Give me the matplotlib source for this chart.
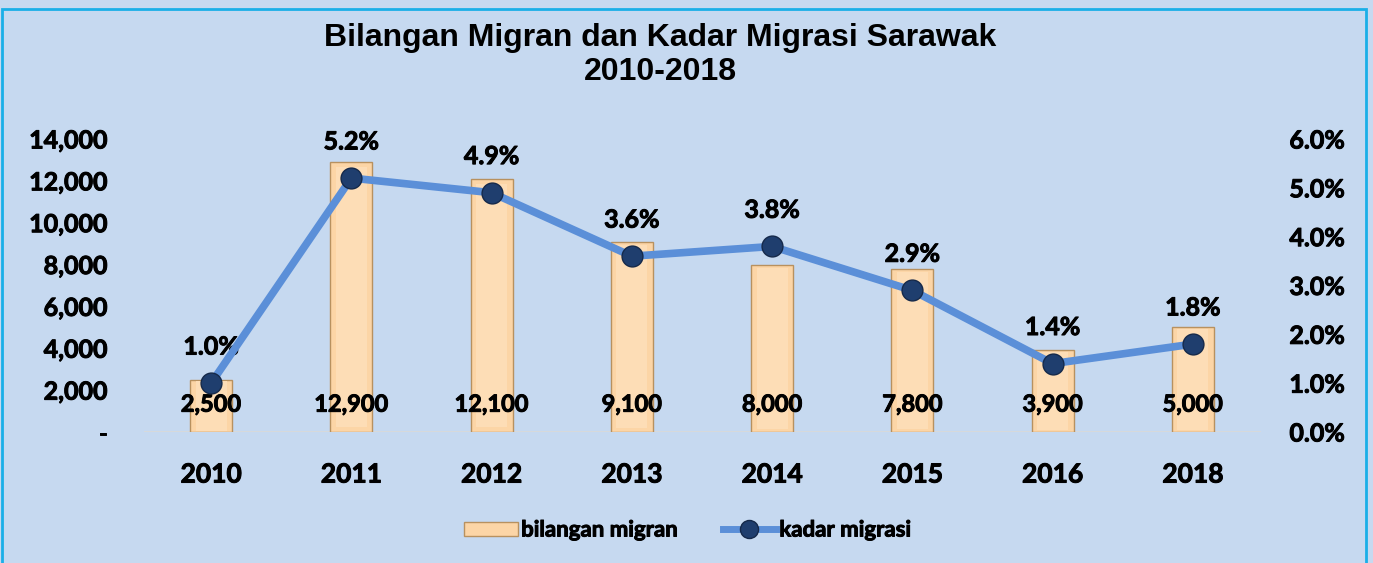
import matplotlib
matplotlib.use("Agg")
import matplotlib.pyplot as plt
from matplotlib.patches import Rectangle
from matplotlib.lines import Line2D
from matplotlib.patches import Patch
import matplotlib.transforms as mtransforms
import matplotlib.patheffects as pe

years = ["2010", "2011", "2012", "2013", "2014", "2015", "2016", "2018"]
migrants = [2500, 12900, 12100, 9100, 8000, 7800, 3900, 5000]
rate = [1.0, 5.2, 4.9, 3.6, 3.8, 2.9, 1.4, 1.8]
left_ticks = [0, 2000, 4000, 6000, 8000, 10000, 12000, 14000]
right_ticks = [0, 1, 2, 3, 4, 5, 6]

BG = "#C6D9F0"
W, H = 1373, 563
fig = plt.figure(figsize=(W / 100, H / 100), dpi=100, facecolor=BG)
plt.rcParams['font.family'] = ['Lato', 'DejaVu Sans']
WT = "bold"
PE = [pe.withStroke(linewidth=0.7, foreground="black")]

# border
fig.patches.append(Rectangle((2 / W, -0.05), 1364 / W, 1.05 - 9 / H,
                             transform=fig.transFigure, fill=False,
                             edgecolor="#1AAFE8", linewidth=2))

ax = fig.add_axes([141 / W, (H - 432) / H, 1122 / W, 293 / H])
ax.set_facecolor("none")
x = list(range(len(years)))
ax.bar(x, migrants, width=0.3, color="#FCD5A6", edgecolor="#B8915F",
       linewidth=1, zorder=2)
ax.bar(x, [m * 0.96 for m in migrants], width=0.22, bottom=[m * 0.02 for m in migrants],
       color="#FDDDB6", linewidth=0, zorder=2.1)
ax.set_xlim(-0.5, len(years) - 0.5)
ax.set_ylim(0, 14000)
ax.set_yticks(left_ticks)
ax.set_yticklabels(["-"] + [f"{v:,}" for v in left_ticks[1:]])
ax.set_xticks(x)
ax.set_xticklabels(years)
for s in ax.spines.values():
    s.set_visible(False)
ax.tick_params(length=0)
ax.tick_params(axis="y", labelsize=18, pad=24)
ax.tick_params(axis="x", labelsize=19, pad=22)
for lab in ax.get_yticklabels() + ax.get_xticklabels():
    lab.set_fontweight(WT)
    lab.set_path_effects(PE)
ax.axhline(0, color="#D9D9D9", linewidth=2, xmin=0.004, xmax=0.996, zorder=1)

trans = mtransforms.blended_transform_factory(ax.transData, ax.transAxes)
for xi, m in zip(x, migrants):
    ax.text(xi, 0.095, f"{m:,}", transform=trans, ha="center", va="center",
            fontsize=17, fontweight=WT, color="black", zorder=5, path_effects=PE)

ax2 = ax.twinx()
ax2.set_ylim(0, 6)
ax2.set_yticks(right_ticks)
ax2.set_yticklabels([f"{v:.1f}%" for v in right_ticks])
for s in ax2.spines.values():
    s.set_visible(False)
ax2.tick_params(length=0, labelsize=18, pad=19)
for lab in ax2.get_yticklabels():
    lab.set_fontweight(WT)
    lab.set_path_effects(PE)
ax2.plot(x, rate, color="#5B8FD8", linewidth=5.5, marker="o", markersize=15,
         markerfacecolor="#1F3E6E", markeredgecolor="#15294A", markeredgewidth=1,
         zorder=4, solid_capstyle="round")
for xi, r in zip(x, rate):
    ax2.annotate(f"{r:.1f}%", (xi, r), xytext=(0, 26), textcoords="offset points",
                 ha="center", va="center", fontsize=18, fontweight=WT, path_effects=PE)

fig.text(660 / W, 1 - 38 / H, "Bilangan Migran dan Kadar Migrasi Sarawak",
         ha="center", va="center", fontsize=23, fontweight="bold",
         family=["Liberation Sans", "DejaVu Sans"])
fig.text(660 / W, 1 - 72 / H, "2010-2018",
         ha="center", va="center", fontsize=23, fontweight="bold",
         family=["Liberation Sans", "DejaVu Sans"])

handles = [Patch(facecolor="#FCD5A6", edgecolor="#B8915F"),
           Line2D([0], [0], color="#5B8FD8", linewidth=5, marker="o", markersize=13,
                  markerfacecolor="#1F3E6E", markeredgecolor="#15294A")]
leg = fig.legend(handles, ["bilangan migran", "kadar migrasi"], loc="center",
                 bbox_to_anchor=(688 / W, 1 - 530 / H), ncol=2, frameon=False,
                 prop={"weight": WT, "size": 16}, handlelength=2.4,
                 handleheight=0.6, columnspacing=2.0, handletextpad=0.15)
for t in leg.get_texts():
    t.set_path_effects(PE)

fig.savefig("out.png", dpi=100, facecolor=BG)
